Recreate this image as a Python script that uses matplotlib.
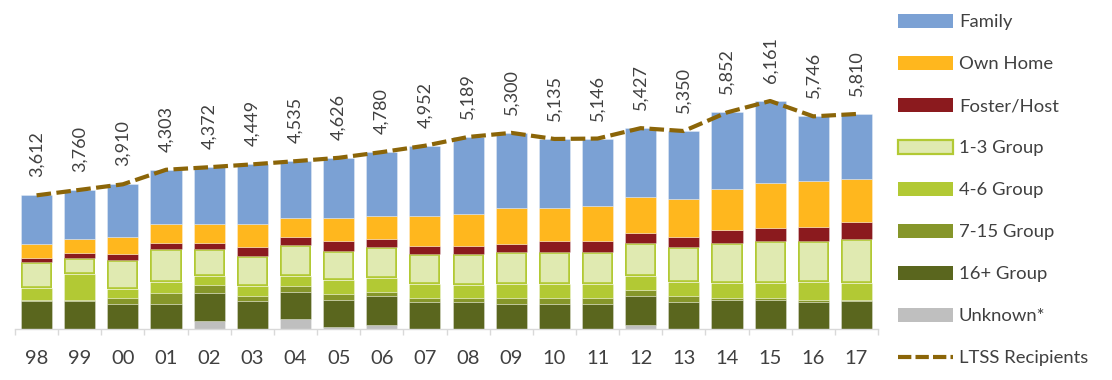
import matplotlib
matplotlib.use("Agg")
import matplotlib.pyplot as plt
import numpy as np
from matplotlib.lines import Line2D
from matplotlib.patches import Patch

years = ["98", "99", "00", "01", "02", "03", "04", "05", "06", "07",
         "08", "09", "10", "11", "12", "13", "14", "15", "16", "17"]
ltss_total = [3612, 3760, 3910, 4303, 4372, 4449, 4535, 4626, 4780, 4952,
              5189, 5300, 5135, 5146, 5427, 5350, 5852, 6161, 5746, 5810]
unknown = [0, 0, 0, 0, 225, 0, 271, 62, 117, 0,
           0, 0, 0, 0, 117, 0, 0, 0, 0, 0]
group_16 = [749, 749, 679, 679, 741, 749, 741, 725, 787, 733,
            722, 668, 679, 679, 768, 733, 787, 787, 733, 749]
group_7_15 = [46, 46, 171, 288, 217, 147, 163, 171, 109, 109,
              119, 174, 163, 163, 182, 171, 62, 54, 54, 27]
group_4_6 = [300, 679, 244, 290, 236, 253, 244, 353, 366, 361,
             361, 361, 361, 361, 353, 353, 407, 415, 470, 480]
group_1_3 = [714, 443, 779, 896, 733, 833, 841, 787, 828, 833,
             833, 887, 877, 877, 896, 950, 1058, 1113, 1113, 1167]
foster_host = [109, 127, 163, 163, 163, 226, 226, 271, 217, 217,
               217, 217, 290, 290, 271, 271, 353, 353, 388, 461]
own_home = [388, 380, 443, 516, 516, 624, 507, 624, 624, 795,
            850, 958, 904, 958, 969, 1023, 1113, 1229, 1248, 1175]
family = [1306, 1336, 1431, 1471, 1541, 1617, 1542, 1633, 1732, 1904,
          2087, 2035, 1861, 1818, 1871, 1849, 2072, 2210, 1740, 1751]

FONT = "Lato"
TXT = "#404040"
plt.rcParams["font.family"] = [FONT, "DejaVu Sans"]

c_family = "#7BA1D4"
c_own = "#FFB71E"
c_foster = "#8B1A1E"
c_13_fill = "#E0EAB1"
c_13_edge = "#B2C934"
c_46 = "#B2C934"
c_715 = "#86962A"
c_16 = "#5A661E"
c_unk = "#BFBFBF"
c_line = "#8B6508"

fig = plt.figure(figsize=(11.12, 3.8), dpi=100)
W, H = 1112, 380
ax_left, ax_right = 15, 878
ax_bottom, ax_top = 329, 0
ax = fig.add_axes([ax_left / W, (H - ax_bottom) / H,
                   (ax_right - ax_left) / W, (ax_bottom - ax_top) / H])

x = np.arange(len(years))
bw = 0.72
series = [
    (unknown, c_unk, "Unknown*"),
    (group_16, c_16, "16+ Group"),
    (group_7_15, c_715, "7-15 Group"),
    (group_4_6, c_46, "4-6 Group"),
    (group_1_3, c_13_fill, "1-3 Group"),
    (foster_host, c_foster, "Foster/Host"),
    (own_home, c_own, "Own Home"),
    (family, c_family, "Family"),
]
bottom = np.zeros(len(years))
for vals, col, name in series:
    vals = np.array(vals, dtype=float)
    if name == "1-3 Group":
        bars = ax.bar(x, vals, bw, bottom=bottom, color=col,
                      edgecolor=c_13_edge, linewidth=2.6, zorder=2)
        for p in bars:
            p.set_clip_path(p)
    else:
        ax.bar(x, vals, bw, bottom=bottom, color=col,
               edgecolor=(1, 1, 1, 0.35), linewidth=0.6, zorder=2)
    bottom += vals

ax.plot(x, ltss_total, color=c_line, linewidth=3.0, dashes=(3.5, 1.3),
        zorder=3, solid_capstyle="butt", dash_capstyle="butt")

for xi, t in zip(x, ltss_total):
    ax.annotate(f"{t:,}", (xi, t), xytext=(0, 13), textcoords="offset points",
                rotation=90, ha="center", va="bottom", fontsize=13,
                color=TXT, family=FONT)

ax.set_xlim(-0.5, len(years) - 0.5)
ax.set_ylim(0, 8890)
for s in ["top", "right", "left"]:
    ax.spines[s].set_visible(False)
ax.spines["bottom"].set_color("#D9D9D9")
ax.spines["bottom"].set_linewidth(1.0)
ax.set_yticks([])
ax.set_xticks(x)
ax.set_xticklabels(years, fontsize=14.5, color=TXT, family=FONT)
ax.tick_params(axis="x", which="major", length=0, pad=15)
ax.set_xticks(np.arange(-0.5, len(years), 1.0), minor=True)
ax.tick_params(axis="x", which="minor", length=4.5, color="#D9D9D9", width=1.0)

handles = [
    Patch(facecolor=c_family, edgecolor="none", label="Family"),
    Patch(facecolor=c_own, edgecolor="none", label="Own Home"),
    Patch(facecolor=c_foster, edgecolor="none", label="Foster/Host"),
    Patch(facecolor=c_13_fill, edgecolor=c_13_edge, linewidth=1.6, label="1-3 Group"),
    Patch(facecolor=c_46, edgecolor="none", label="4-6 Group"),
    Patch(facecolor=c_715, edgecolor="none", label="7-15 Group"),
    Patch(facecolor=c_16, edgecolor="none", label="16+ Group"),
    Patch(facecolor=c_unk, edgecolor="none", label="Unknown*"),
    Line2D([0], [0], color=c_line, linewidth=3.0, dashes=(3.2, 1.0),
           label="LTSS Recipients"),
]
leg = fig.legend(handles=handles, loc="upper left",
                 bbox_to_anchor=(898 / W, 1 - 14 / H), frameon=False,
                 fontsize=13.3, handlelength=3.0, handleheight=0.8,
                 handletextpad=0.3, labelspacing=1.38, borderpad=0,
                 borderaxespad=0)
for t in leg.get_texts():
    t.set_color(TXT)

fig.savefig("out.png", dpi=100)
